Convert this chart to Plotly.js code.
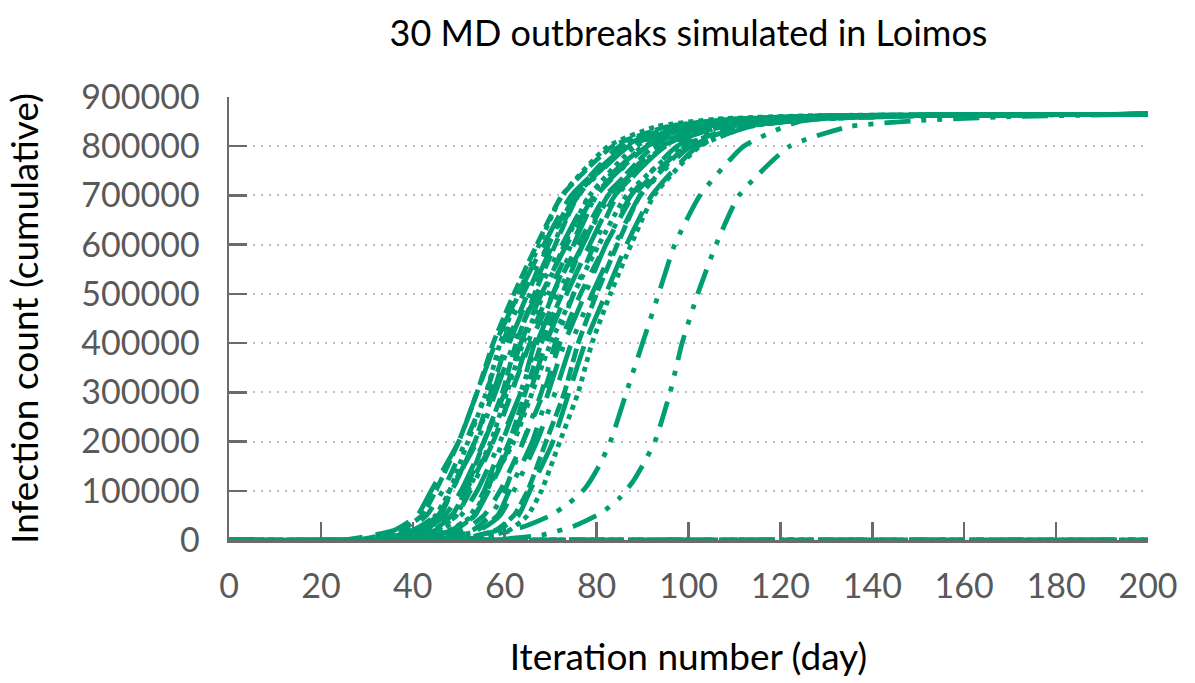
<!DOCTYPE html>
<html>
<head>
<meta charset="utf-8">
<script src="https://cdn.plot.ly/plotly-3.0.1.min.js"></script>
<style>
  html, body { margin: 0; padding: 0; background: #ffffff; }
  #chart { width: 1195px; height: 683px; }
</style>
</head>
<body>
<div id="chart"></div>
<script>
// Cumulative infection levels shared by the 24 main-cluster runs
const levels = [0, 0, 20000, 50000, 100000, 200000, 300000, 400000, 500000, 600000, 700000, 800000, 840000, 855000, 862000, 865000];

// Day at which each run reaches each level
const days01 = [0, 27.5, 37.5, 42, 45, 50, 54, 57.5, 62, 67, 72.5, 83.5, 95.5, 109.5, 132.5, 200];
const days02 = [0, 25, 36, 41, 44, 50, 54, 58, 63, 68.5, 74.5, 86.5, 100, 115, 140.5, 200];
const days03 = [0, 32, 41, 45, 48, 52, 56, 59, 63, 67.5, 72.5, 82.5, 93, 106, 126.5, 200];
const days04 = [0, 28, 38.5, 43, 46.5, 51.5, 56, 59.5, 64, 69.5, 75.5, 87, 99.5, 114, 138.5, 200];
const days05 = [0, 32, 41.5, 46, 48.5, 53.5, 57, 60.5, 65, 69.5, 75, 85, 96.5, 110, 132, 200];
const days06 = [0, 31, 41, 45.5, 48.5, 53.5, 57.5, 61, 65.5, 70.5, 76, 87, 99, 113, 136, 200];
const days07 = [0, 29, 40, 45, 48, 54, 58, 62, 67, 72.5, 78.5, 90.5, 104, 119, 144.5, 200];
const days08 = [0, 35.5, 44.5, 48.5, 51.5, 55.5, 59.5, 62.5, 66.5, 71, 76, 86, 96.5, 109.5, 130, 200];
const days09 = [0, 32, 42.5, 47, 50.5, 55.5, 60, 63.5, 68, 73.5, 79.5, 91, 103.5, 118, 142.5, 200];
const days10 = [0, 35.5, 45, 49.5, 52, 57, 60.5, 64, 68.5, 73, 78.5, 88.5, 100, 113.5, 135.5, 200];
const days11 = [0, 35, 45, 49.5, 52.5, 57.5, 61.5, 65, 69.5, 74.5, 80, 91, 103, 117, 140, 200];
const days12 = [0, 32.5, 43.5, 48.5, 51.5, 57.5, 61.5, 65.5, 70.5, 76, 82, 94, 107.5, 122.5, 148, 200];
const days13 = [0, 39.5, 48.5, 52.5, 55.5, 59.5, 63.5, 66.5, 70.5, 75, 80, 90, 100.5, 113.5, 134, 200];
const days14 = [0, 35.5, 46, 50.5, 54, 59, 63.5, 67, 71.5, 77, 83, 94.5, 107, 121.5, 146, 200];
const days15 = [0, 39.5, 49, 53.5, 56, 61, 64.5, 68, 72.5, 77, 82.5, 92.5, 104, 117.5, 139.5, 200];
const days16 = [0, 39, 49, 53.5, 56.5, 61.5, 65.5, 69, 73.5, 78.5, 84, 95, 107, 121, 144, 200];
const days17 = [0, 37, 48, 53, 56, 62, 66, 70, 75, 80.5, 86.5, 98.5, 112, 127, 152.5, 200];
const days18 = [0, 44, 53, 57, 60, 64, 68, 71, 75, 79.5, 84.5, 94.5, 105, 118, 138.5, 200];
const days19 = [0, 40.5, 51, 55.5, 59, 64, 68.5, 72, 76.5, 82, 88, 99.5, 112, 126.5, 151, 200];
const days20 = [0, 44.5, 54, 58.5, 61, 66, 69.5, 73, 77.5, 82, 87.5, 97.5, 109, 122.5, 144.5, 200];
const days21 = [0, 44.5, 54.5, 59, 62, 67, 71, 74.5, 79, 84, 89.5, 100.5, 112.5, 126.5, 149.5, 200];
const days22 = [0, 49, 58, 62, 65, 69, 73, 76, 80, 84.5, 89.5, 99.5, 110, 123, 143.5, 200];
const days23 = [0, 49, 58.5, 63, 65.5, 70.5, 74, 77.5, 82, 86.5, 92, 102, 113.5, 127, 149, 200];
const days24 = [0, 52, 61, 65, 68, 72, 76, 79, 83, 87.5, 92.5, 102.5, 113, 126, 146.5, 200];

// Two late outbreaks
const lateADays = [0, 45, 55, 60, 65, 70, 74, 77.5, 80.5, 83, 86.5, 90, 93.5, 97, 102.5, 112, 124, 140, 200];
const lateAVals = [0, 0, 5000, 15000, 30000, 50000, 75000, 105000, 150000, 200000, 300000, 400000, 500000, 600000, 700000, 800000, 850000, 860000, 865000];
const lateBDays = [0, 52, 60, 68, 75, 81, 85, 88, 90.5, 92.7, 96, 98.6, 102, 106, 111, 122, 135, 150, 170, 200];
const lateBVals = [0, 0, 2000, 10000, 28000, 55000, 85000, 120000, 160000, 200000, 300000, 400000, 500000, 600000, 700000, 800000, 840000, 852000, 860000, 865000];

// Four runs that never took off
const failedDays = [0, 200];
const failedVals = [0, 0];
const failedRuns = 4;

const xTicks = [0, 20, 40, 60, 80, 100, 120, 140, 160, 180, 200];
const yTicks = [0, 100000, 200000, 300000, 400000, 500000, 600000, 700000, 800000, 900000];

// ---- styling ----
const GREEN = '#009E73';
const W = 4.8;
const dashStyles = [
  '14px,5px',                  // short dash
  '36px,13px',                 // long dash
  '5px,5px',                   // dots
  '18px,13px,5px,13px',        // dash dot
  '18px,13px',                 // dash
  '36px,13px,5px,13px',        // long dash dot
  '36px,13px,5px,13px,5px,13px' // long dash dot dot
];

const mainRuns = [days01, days02, days03, days04, days05, days06, days07, days08, days09, days10,
                  days11, days12, days13, days14, days15, days16, days17, days18, days19, days20,
                  days21, days22, days23, days24];

const traces = [];
function addTrace(x, y, dash) {
  traces.push({
    type: 'scatter', mode: 'lines', x: x, y: y,
    line: { color: GREEN, width: W, dash: dash, shape: 'spline', smoothing: 0.5 },
    cliponaxis: false, hoverinfo: 'skip', showlegend: false
  });
}
for (let i = 0; i < failedRuns; i++) {
  addTrace(failedDays, failedVals, dashStyles[(i * 2) % dashStyles.length]);
}
mainRuns.forEach((d, i) => addTrace(d, levels, dashStyles[i % dashStyles.length]));
addTrace(lateADays, lateAVals, '30px,11px,5px,11px,5px,11px');
addTrace(lateBDays, lateBVals, '26px,11px,5px,11px,5px,11px');

const FONT = 'Lato, "Open Sans", "DejaVu Sans", sans-serif';
const AXIS_COLOR = '#6b6b6b';

const layout = {
  width: 1195, height: 683,
  margin: { l: 229, r: 47, t: 97, b: 143, pad: 0 },
  paper_bgcolor: '#ffffff', plot_bgcolor: '#ffffff',
  font: { family: FONT, color: '#000000' },
  title: {
    text: '30 MD outbreaks simulated in Loimos',
    font: { family: FONT, size: 36, color: '#000000' },
    x: 0.5, xref: 'paper', xanchor: 'center',
    y: 1 - 33 / 683, yref: 'container', yanchor: 'middle'
  },
  xaxis: {
    range: [0, 200], tickvals: xTicks, ticktext: xTicks.map(String),
    showgrid: false, zeroline: false,
    showline: true, linecolor: AXIS_COLOR, linewidth: 2.5,
    ticks: 'inside', ticklen: 18, tickwidth: 2.5, tickcolor: AXIS_COLOR,
    tickfont: { family: FONT, size: 34, color: '#595959' },
    ticklabelstandoff: 15,
    layer: 'below traces', fixedrange: true,
    title: { text: 'Iteration number (day)', font: { family: FONT, size: 37, color: '#000000' }, standoff: 40 }
  },
  yaxis: {
    range: [0, 900000], tickvals: yTicks, ticktext: yTicks.map(String),
    showgrid: true, gridcolor: '#bdbdbd', gridwidth: 2, griddash: '2px,6px',
    zeroline: false,
    showline: true, linecolor: AXIS_COLOR, linewidth: 2.5,
    ticks: 'inside', ticklen: 18, tickwidth: 2.5, tickcolor: AXIS_COLOR,
    tickfont: { family: FONT, size: 34, color: '#595959' },
    ticklabelstandoff: 20,
    layer: 'below traces', fixedrange: true,
    title: { text: 'Infection count (cumulative)', font: { family: FONT, size: 37, color: '#000000' }, standoff: 32 }
  }
};

Plotly.newPlot('chart', traces, layout, { staticPlot: true, displayModeBar: false });
</script>
</body>
</html>
